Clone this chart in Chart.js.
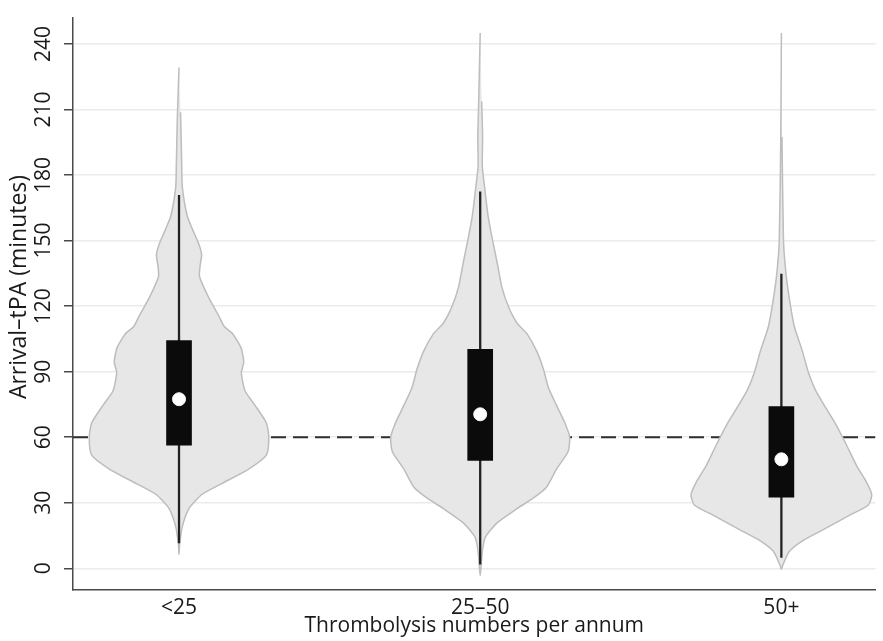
<!DOCTYPE html>
<html>
<head>
<meta charset="utf-8">
<script src="https://cdn.jsdelivr.net/npm/chart.js@4.4.1/dist/chart.umd.min.js"></script>
<style>
  html, body { margin: 0; padding: 0; background: #fff; }
  #wrap { width: 883px; height: 641px; position: relative; }
</style>
</head>
<body>
<div id="wrap"><canvas id="violinChart"></canvas></div>
<script>
// --- data ---
const categories = ['<25', '25–50', '50+'];
const catPos = [1, 2, 3];
const yTicks = [0, 30, 60, 90, 120, 150, 180, 210, 240];
const threshold = 60;

const boxLow = [56.4, 49.4, 32.6];
const boxHigh = [104.2, 100.2, 74.0];
const medians = [77.4, 70.5, 49.9];
const whiskerLow = [11.5, 1.7, 4.8];
const whiskerHigh = [170.9, 172.5, 134.8];

// violin outlines: minutes (top -> bottom) and half-width in category units
const v1Minutes = [229.2, 208.8, 197.4, 184.3, 174.5, 161.4, 154.8, 148.3, 143.4, 138.5, 133.6, 123.8, 115.6, 110.7, 107.4, 100.9, 94.4, 89.5, 81.3, 74.7, 66.6, 60.0, 51.8, 45.3, 38.8, 33.9, 27.3, 19.1, 11.0, 6.4];
const v1Width = [0, .005, .007, .009, .011, .027, .046, .066, .075, .07, .068, .099, .132, .15, .178, .206, .215, .207, .219, .252, .29, .298, .29, .23, .142, .077, .033, .011, .002, 0];

const v2Minutes = [245, 213.7, 197.4, 184.3, 172.8, 161.4, 151.6, 140.1, 128.7, 119.7, 112.3, 107.4, 99.3, 91.1, 82.9, 74.7, 66.6, 60.0, 53.5, 45.3, 37.1, 32.2, 27.3, 20.8, 14.2, 7.7, -3.4];
const v2Width = [0, .005, .008, .007, .016, .026, .039, .056, .072, .094, .122, .155, .188, .21, .226, .253, .281, .297, .292, .253, .22, .177, .122, .056, .017, .007, 0];

const v3Minutes = [245, 197.4, 149.9, 135.2, 123.8, 110.7, 99.3, 89.5, 81.3, 74.7, 66.6, 56.8, 46.9, 40.4, 33.9, 29.0, 24.1, 17.5, 12.6, 7.7, 1.2, -0.5];
const v3Width = [0, .002, .007, .015, .026, .043, .07, .09, .114, .142, .178, .215, .25, .279, .3, .289, .224, .136, .07, .026, .004, 0];

// axis ranges
const xMin = 0.648, xMax = 3.3125;
const yMin = -9.93, yMax = 251.9;

const FAMILY = "'Open Sans', 'DejaVu Sans', sans-serif";
const FONT = { family: FAMILY, size: 21 };
const TEXT = '#1a1a1a';
const AXIS = '#4a4a4a';

// closed outline: left side top->bottom, then right side back up
function violinPoints(c, mins, w) {
    const left = mins.map((m, i) => ({ x: c - w[i], y: m }));
    const right = [];
    for (let i = mins.length - 2; i > 0; i--) right.push({ x: c + w[i], y: mins[i] });
    return left.concat(right);
}

const violins = [
    [v1Minutes, v1Width],
    [v2Minutes, v2Width],
    [v3Minutes, v3Width]
].map(([m, w], i) => ({
    type: 'line',
    data: violinPoints(catPos[i], m, w),
    fill: 'shape',
    backgroundColor: '#e7e7e7',
    borderColor: '#bdbdbd',
    borderWidth: 1.5,
    pointRadius: 0,
    tension: 0.2,
    order: 3
}));

const whiskers = {
    type: 'line',
    data: catPos.flatMap((c, i) => [
        { x: c, y: whiskerHigh[i] },
        { x: c, y: whiskerLow[i] },
        { x: c, y: null }
    ]),
    borderColor: '#222',
    borderWidth: 2.3,
    pointRadius: 0,
    spanGaps: false,
    order: 2
};

const boxes = {
    type: 'bar',
    data: catPos.map((c, i) => ({ x: c, y: [boxLow[i], boxHigh[i]] })),
    backgroundColor: '#0b0b0b',
    borderWidth: 0,
    barThickness: 25,
    order: 1
};

const medianDots = {
    type: 'scatter',
    data: catPos.map((c, i) => ({ x: c, y: medians[i] })),
    pointRadius: 6.5,
    pointBackgroundColor: '#ffffff',
    pointBorderColor: '#f4f4f4',
    pointBorderWidth: 1,
    showLine: false,
    order: 0
};

const refLine = {
    type: 'line',
    data: [{ x: xMin, y: threshold }, { x: xMax, y: threshold }],
    borderColor: '#2e2e2e',
    borderWidth: 2,
    borderDash: [15, 7],
    pointRadius: 0,
    order: 4
};

// y axis title, placed a little above the axis centre as in the original
const yTitle = {
    id: 'yTitle',
    afterDraw(chart) {
        const ctx = chart.ctx;
        ctx.save();
        ctx.translate(19, 287);
        ctx.rotate(-Math.PI / 2);
        ctx.font = '23px ' + FAMILY;
        ctx.fillStyle = TEXT;
        ctx.textAlign = 'center';
        ctx.textBaseline = 'middle';
        ctx.fillText('Arrival–tPA (minutes)', 0, 0);
        ctx.restore();
    }
};

new Chart(document.getElementById('violinChart'), {
    type: 'line',
    data: { datasets: [medianDots, boxes, whiskers, ...violins, refLine] },
    plugins: [yTitle],
    options: {
        responsive: true,
        maintainAspectRatio: false,
        animation: false,
        events: [],
        layout: { padding: { top: 18, right: 0, bottom: 0, left: 0 } },
        plugins: {
            legend: { display: false },
            tooltip: { enabled: false }
        },
        scales: {
            x: {
                type: 'linear',
                min: xMin,
                max: xMax,
                offset: false,
                afterBuildTicks: s => { s.ticks = catPos.map(v => ({ value: v })); },
                afterFit: s => { s.height = 51; },
                grid: { drawOnChartArea: false, drawTicks: false, offset: false },
                border: { display: true, color: AXIS, width: 1.5 },
                ticks: {
                    autoSkip: false,
                    maxRotation: 0,
                    minRotation: 0,
                    padding: 5,
                    color: TEXT,
                    font: FONT,
                    callback: (v, i) => categories[i]
                },
                title: {
                    display: true,
                    text: 'Thrombolysis numbers per annum',
                    color: TEXT,
                    font: FONT,
                    padding: { top: 0, bottom: 2 }
                }
            },
            y: {
                type: 'linear',
                min: yMin,
                max: yMax,
                afterBuildTicks: s => { s.ticks = yTicks.map(v => ({ value: v })); },
                afterFit: s => { s.width = 73; },
                grid: {
                    color: '#ebebeb',
                    lineWidth: 1.5,
                    tickColor: AXIS,
                    tickLength: 9,
                    tickWidth: 1.5
                },
                border: { display: true, color: AXIS, width: 1.5 },
                ticks: {
                    minRotation: 90,
                    maxRotation: 90,
                    crossAlign: 'center',
                    padding: 1.5,
                    color: TEXT,
                    font: FONT
                },
                title: { display: false }
            }
        }
    }
});
</script>
</body>
</html>
